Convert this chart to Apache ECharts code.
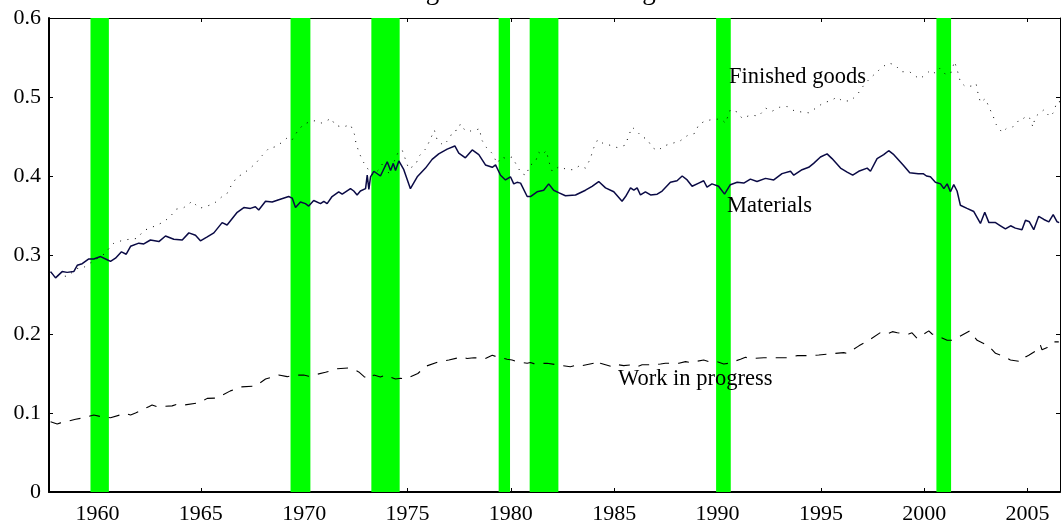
<!DOCTYPE html>
<html>
<head>
<meta charset="utf-8">
<script src="https://cdn.jsdelivr.net/npm/echarts@6/dist/echarts.min.js"></script>
<style>
html,body{margin:0;padding:0;background:#fff;}
#chart{width:1061px;height:527px;}
</style>
</head>
<body>
<div id="chart"></div>
<script>
// ---------- data ----------
const titleText = 'Figure 4: Nondurable goods';
const xTicks = [1960, 1965, 1970, 1975, 1980, 1985, 1990, 1995, 2000, 2005];
const yTicks = [0, 0.1, 0.2, 0.3, 0.4, 0.5, 0.6];

const recessionStart = [1959.66, 1969.34, 1973.25, 1979.41, 1980.91, 1989.93, 2000.59];
const recessionEnd   = [1960.55, 1970.30, 1974.62, 1979.96, 1982.30, 1990.64, 2001.30];

const materialsYears = [1957.73,1957.97,1958.29,1958.53,1958.85,1959.02,1959.26,1959.58,1959.82,1960.15,1960.47,1960.63,1960.87,1961.16,1961.39,1961.60,1962.00,1962.24,1962.56,1962.97,1963.29,1963.69,1964.10,1964.42,1964.74,1964.98,1965.31,1965.63,1966.03,1966.27,1966.76,1967.08,1967.40,1967.64,1967.80,1968.13,1968.45,1968.77,1969.25,1969.42,1969.58,1969.82,1970.06,1970.22,1970.46,1970.79,1970.95,1971.11,1971.35,1971.67,1971.84,1972.24,1972.40,1972.56,1972.72,1972.97,1973.05,1973.13,1973.21,1973.37,1973.69,1974.02,1974.18,1974.31,1974.42,1974.58,1974.82,1975.14,1975.47,1975.87,1976.19,1976.51,1976.92,1977.29,1977.48,1977.80,1978.13,1978.45,1978.77,1979.10,1979.26,1979.50,1979.74,1979.98,1980.14,1980.30,1980.47,1980.79,1980.95,1981.27,1981.59,1981.83,1982.07,1982.31,1982.64,1983.13,1983.61,1983.93,1984.25,1984.58,1984.98,1985.38,1985.55,1985.79,1985.95,1986.11,1986.27,1986.51,1986.76,1987.08,1987.32,1987.72,1988.04,1988.29,1988.53,1988.77,1989.09,1989.33,1989.49,1989.73,1990.05,1990.34,1990.62,1990.95,1991.27,1991.59,1991.91,1992.32,1992.72,1993.12,1993.53,1993.69,1994.09,1994.41,1994.65,1994.98,1995.30,1995.54,1995.95,1996.27,1996.54,1996.83,1997.24,1997.40,1997.72,1998.04,1998.28,1998.53,1998.98,1999.30,1999.71,1999.95,2000.11,2000.30,2000.54,2000.79,2000.95,2001.11,2001.27,2001.43,2001.59,2001.75,2002.07,2002.40,2002.72,2002.93,2003.13,2003.45,2003.69,2003.93,2004.18,2004.41,2004.73,2004.90,2005.09,2005.30,2005.54,2005.79,2006.03,2006.24,2006.43,2006.53];
const materialsValues = [0.279,0.271,0.279,0.278,0.279,0.287,0.289,0.295,0.295,0.298,0.294,0.292,0.296,0.304,0.301,0.311,0.315,0.314,0.319,0.317,0.324,0.320,0.319,0.328,0.325,0.318,0.323,0.328,0.341,0.338,0.354,0.360,0.359,0.361,0.357,0.368,0.367,0.370,0.374,0.372,0.360,0.367,0.365,0.362,0.369,0.365,0.368,0.365,0.374,0.380,0.377,0.384,0.381,0.376,0.381,0.384,0.401,0.383,0.399,0.406,0.400,0.418,0.407,0.416,0.407,0.419,0.408,0.384,0.399,0.410,0.421,0.428,0.434,0.438,0.429,0.423,0.433,0.427,0.414,0.411,0.414,0.401,0.395,0.399,0.390,0.392,0.391,0.374,0.374,0.380,0.382,0.390,0.382,0.379,0.375,0.376,0.382,0.387,0.393,0.385,0.380,0.368,0.374,0.385,0.382,0.385,0.376,0.380,0.376,0.377,0.381,0.392,0.394,0.400,0.395,0.387,0.391,0.394,0.386,0.390,0.387,0.377,0.389,0.392,0.391,0.396,0.393,0.397,0.395,0.403,0.406,0.401,0.408,0.411,0.416,0.424,0.428,0.422,0.410,0.405,0.401,0.406,0.410,0.406,0.422,0.427,0.432,0.427,0.414,0.404,0.403,0.403,0.400,0.399,0.392,0.390,0.384,0.390,0.380,0.389,0.381,0.363,0.359,0.355,0.340,0.354,0.341,0.341,0.337,0.333,0.337,0.334,0.332,0.344,0.342,0.332,0.349,0.345,0.342,0.351,0.342,0.341];

const finishedYears = [1957.73,1958.05,1958.53,1959.02,1959.26,1959.66,1960.31,1960.79,1961.27,1961.92,1962.24,1962.81,1963.21,1963.53,1963.81,1964.18,1964.58,1964.93,1965.31,1965.63,1966.03,1966.27,1966.47,1966.76,1967.00,1967.40,1967.72,1967.97,1968.29,1968.61,1968.89,1969.21,1969.42,1969.66,1969.95,1970.30,1970.54,1970.82,1971.03,1971.30,1971.51,1971.88,1972.24,1972.43,1972.51,1972.68,1972.88,1973.13,1973.34,1973.61,1973.85,1974.10,1974.53,1974.74,1974.90,1975.06,1975.38,1975.59,1975.90,1976.11,1976.30,1976.43,1976.72,1976.99,1977.21,1977.43,1977.56,1977.80,1978.05,1978.29,1978.50,1978.56,1978.82,1979.12,1979.33,1979.55,1979.79,1980.05,1980.30,1980.51,1980.75,1980.90,1981.19,1981.35,1981.51,1981.72,1981.83,1982.00,1982.35,1982.72,1983.04,1983.32,1983.61,1983.85,1983.98,1984.20,1984.53,1984.80,1985.14,1985.54,1985.70,1985.87,1986.11,1986.38,1986.59,1986.84,1987.11,1987.40,1987.76,1988.17,1988.53,1988.90,1989.09,1989.42,1989.66,1989.98,1990.22,1990.38,1990.62,1990.95,1991.19,1991.59,1992.00,1992.32,1992.64,1993.00,1993.37,1993.74,1994.09,1994.41,1994.82,1995.14,1995.46,1995.79,1996.03,1996.43,1996.76,1997.08,1997.32,1997.56,1997.89,1998.25,1998.57,1998.90,1999.29,1999.49,1999.77,2000.06,2000.30,2000.54,2000.75,2001.02,2001.27,2001.47,2001.62,2001.75,2002.00,2002.31,2002.51,2002.60,2002.72,2002.96,2003.12,2003.33,2003.49,2003.77,2004.01,2004.28,2004.52,2004.73,2004.90,2005.11,2005.26,2005.37,2005.80,2006.07,2006.28,2006.41,2006.57];
const finishedValues = [0.278,0.274,0.273,0.283,0.283,0.290,0.301,0.315,0.319,0.321,0.331,0.337,0.342,0.349,0.358,0.360,0.368,0.359,0.362,0.365,0.374,0.378,0.388,0.399,0.402,0.410,0.418,0.426,0.435,0.437,0.442,0.449,0.446,0.456,0.465,0.469,0.470,0.467,0.469,0.473,0.464,0.462,0.465,0.453,0.441,0.428,0.417,0.407,0.401,0.408,0.418,0.403,0.429,0.433,0.421,0.409,0.414,0.426,0.435,0.447,0.458,0.446,0.439,0.446,0.457,0.458,0.466,0.457,0.457,0.458,0.460,0.447,0.436,0.428,0.416,0.424,0.422,0.424,0.413,0.403,0.401,0.413,0.418,0.430,0.427,0.432,0.419,0.406,0.412,0.408,0.408,0.413,0.410,0.422,0.434,0.446,0.440,0.439,0.436,0.439,0.451,0.462,0.456,0.449,0.447,0.436,0.432,0.438,0.441,0.444,0.451,0.454,0.465,0.470,0.471,0.472,0.471,0.467,0.484,0.481,0.473,0.477,0.476,0.486,0.482,0.487,0.488,0.482,0.481,0.480,0.487,0.493,0.495,0.500,0.495,0.495,0.503,0.515,0.522,0.528,0.536,0.543,0.541,0.532,0.532,0.528,0.523,0.528,0.534,0.530,0.536,0.529,0.529,0.545,0.532,0.519,0.513,0.514,0.517,0.505,0.493,0.498,0.488,0.476,0.465,0.455,0.461,0.462,0.469,0.470,0.476,0.473,0.462,0.475,0.484,0.475,0.481,0.494,0.494];

const wipYears = [1957.73,1958.05,1958.21,1958.94,1959.42,1959.82,1960.15,1960.63,1961.35,1961.60,1961.84,1962.48,1962.64,1962.88,1963.61,1963.85,1964.18,1964.90,1965.31,1965.79,1966.43,1966.92,1967.64,1968.13,1968.77,1969.18,1969.50,1969.98,1970.22,1970.46,1971.03,1971.60,1972.16,1972.40,1972.64,1972.90,1973.13,1973.37,1973.69,1973.93,1974.42,1974.66,1974.90,1975.50,1975.87,1976.51,1977.00,1977.64,1977.88,1978.21,1978.77,1979.10,1979.34,1979.82,1980.06,1980.30,1980.79,1980.95,1981.11,1981.75,1982.23,1982.88,1983.20,1983.44,1984.01,1984.17,1984.33,1984.98,1985.22,1985.46,1985.87,1986.11,1986.35,1986.92,1987.24,1987.48,1988.13,1988.45,1988.69,1989.33,1989.57,1989.98,1990.30,1990.54,1991.11,1991.35,1991.59,1992.24,1992.56,1993.37,1993.86,1994.49,1994.90,1995.70,1996.11,1996.27,1996.84,1997.32,1997.89,1998.22,1998.46,1998.70,1999.25,1999.41,1999.66,2000.22,2000.38,2000.62,2001.11,2001.35,2001.59,2002.20,2002.56,2003.12,2003.45,2003.93,2004.01,2004.17,2004.73,2004.90,2005.06,2005.54,2005.62,2005.70,2005.95,2006.03,2006.27,2006.51];
const wipValues = [0.089,0.086,0.0875,0.092,0.0945,0.0975,0.0955,0.094,0.0996,0.0975,0.100,0.108,0.110,0.108,0.109,0.111,0.110,0.113,0.1185,0.119,0.128,0.133,0.134,0.143,0.148,0.146,0.148,0.148,0.1465,0.148,0.1515,0.156,0.157,0.155,0.152,0.146,0.143,0.148,0.1455,0.148,0.143,0.144,0.143,0.150,0.159,0.165,0.167,0.171,0.169,0.170,0.169,0.173,0.171,0.168,0.167,0.165,0.163,0.164,0.1625,0.163,0.161,0.1586,0.161,0.160,0.163,0.167,0.163,0.158,0.161,0.160,0.161,0.1586,0.161,0.161,0.162,0.163,0.163,0.165,0.164,0.167,0.165,0.165,0.162,0.163,0.168,0.1705,0.169,0.170,0.170,0.170,0.1726,0.1726,0.1734,0.1755,0.1764,0.1755,0.185,0.192,0.202,0.200,0.203,0.2015,0.200,0.2015,0.1945,0.204,0.200,0.198,0.192,0.192,0.195,0.204,0.192,0.185,0.1755,0.171,0.169,0.167,0.165,0.171,0.173,0.181,0.186,0.180,0.183,0.186,0.190,0.190];

const seriesNames = ['Finished goods', 'Materials', 'Work in progress'];
// ---------------------------

const zip = (a, b) => a.map((v, i) => [v, b[i]]);
const FONT = '"Liberation Serif", "Times New Roman", serif';
const X_MIN = 1957.653, X_MAX = 2006.57;

const chart = echarts.init(document.getElementById('chart'), null, {renderer: 'canvas'});

const axisCommon = {
  axisLine: {show: true, onZero: false},
  splitLine: {show: false}
};

const option = {
  animation: false,
  backgroundColor: '#ffffff',
  grid: {left: 49, right: 1, top: 18, bottom: 35, containLabel: false},
  xAxis: [
    Object.assign({}, axisCommon, {
      type: 'value', position: 'bottom', min: X_MIN, max: X_MAX,
      axisLine: {show: true, onZero: false, lineStyle: {color: '#000', width: 2}},
      axisTick: {show: true, inside: true, length: 4, customValues: xTicks, lineStyle: {color: '#000', width: 1}},
      axisLabel: {show: true, customValues: xTicks, margin: 11, color: '#000', fontFamily: FONT, fontSize: 22,
        formatter: v => String(Math.round(v))}
    }),
    Object.assign({}, axisCommon, {
      type: 'value', position: 'top', min: X_MIN, max: X_MAX,
      axisLine: {show: true, onZero: false, lineStyle: {color: '#000', width: 1}},
      axisTick: {show: true, inside: true, length: 4, customValues: xTicks, lineStyle: {color: '#000', width: 1}},
      axisLabel: {show: false}
    })
  ],
  yAxis: [
    Object.assign({}, axisCommon, {
      type: 'value', position: 'left', min: 0, max: 0.6, interval: 0.1,
      axisLine: {show: true, onZero: false, lineStyle: {color: '#000', width: 2}},
      axisTick: {show: true, inside: true, length: 4, lineStyle: {color: '#000', width: 1}},
      axisLabel: {show: true, margin: 8, color: '#000', fontFamily: FONT, fontSize: 22, padding: [3, 0, 0, 0],
        formatter: v => (Math.abs(v) < 1e-9 ? '0' : (+v.toFixed(1)).toString())}
    }),
    Object.assign({}, axisCommon, {
      type: 'value', position: 'right', min: 0, max: 0.6, interval: 0.1,
      axisLine: {show: true, onZero: false, lineStyle: {color: '#000', width: 1}},
      axisTick: {show: true, inside: true, length: 4, lineStyle: {color: '#000', width: 1}},
      axisLabel: {show: false}
    })
  ],
  series: [
    {
      type: 'custom', name: 'Recessions', z: 1,
      xAxisIndex: 0, yAxisIndex: 0,
      data: zip(recessionStart, recessionEnd),
      encode: {x: [0, 1]},
      renderItem: function (params, api) {
        const p0 = api.coord([api.value(0), 0.6]);
        const p1 = api.coord([api.value(1), 0]);
        return {
          type: 'rect',
          shape: {x: p0[0], y: p0[1], width: p1[0] - p0[0], height: p1[1] - p0[1]},
          style: {fill: '#00ff00'}
        };
      },
      silent: true
    },
    {
      type: 'line', name: seriesNames[0], z: 3, showSymbol: false, symbol: 'none',
      data: zip(finishedYears, finishedValues),
      lineStyle: {color: '#000', width: 1, type: [1, 6.5], cap: 'butt'}
    },
    {
      type: 'line', name: seriesNames[1], z: 4, showSymbol: false, symbol: 'none',
      data: zip(materialsYears, materialsValues),
      lineStyle: {color: '#0a0a45', width: 1.5}
    },
    {
      type: 'line', name: seriesNames[2], z: 3, showSymbol: false, symbol: 'none',
      data: zip(wipYears, wipValues),
      lineStyle: {color: '#000', width: 1.1, type: [11, 9]}
    }
  ],
  graphic: [
    {type: 'text', x: 555, y: -8, z: 10, style: {text: titleText, font: '27px ' + FONT, fill: '#000', align: 'center', verticalAlign: 'middle'}},
    {type: 'text', x: 729, y: 77.5, z: 10, style: {text: seriesNames[0], font: '22.5px ' + FONT, fill: '#000', align: 'left', verticalAlign: 'middle'}},
    {type: 'text', x: 727, y: 206, z: 10, style: {text: seriesNames[1], font: '22.5px ' + FONT, fill: '#000', align: 'left', verticalAlign: 'middle'}},
    {type: 'text', x: 618, y: 379, z: 10, style: {text: seriesNames[2], font: '22.5px ' + FONT, fill: '#000', align: 'left', verticalAlign: 'middle'}}
  ]
};

chart.setOption(option);
</script>
</body>
</html>
